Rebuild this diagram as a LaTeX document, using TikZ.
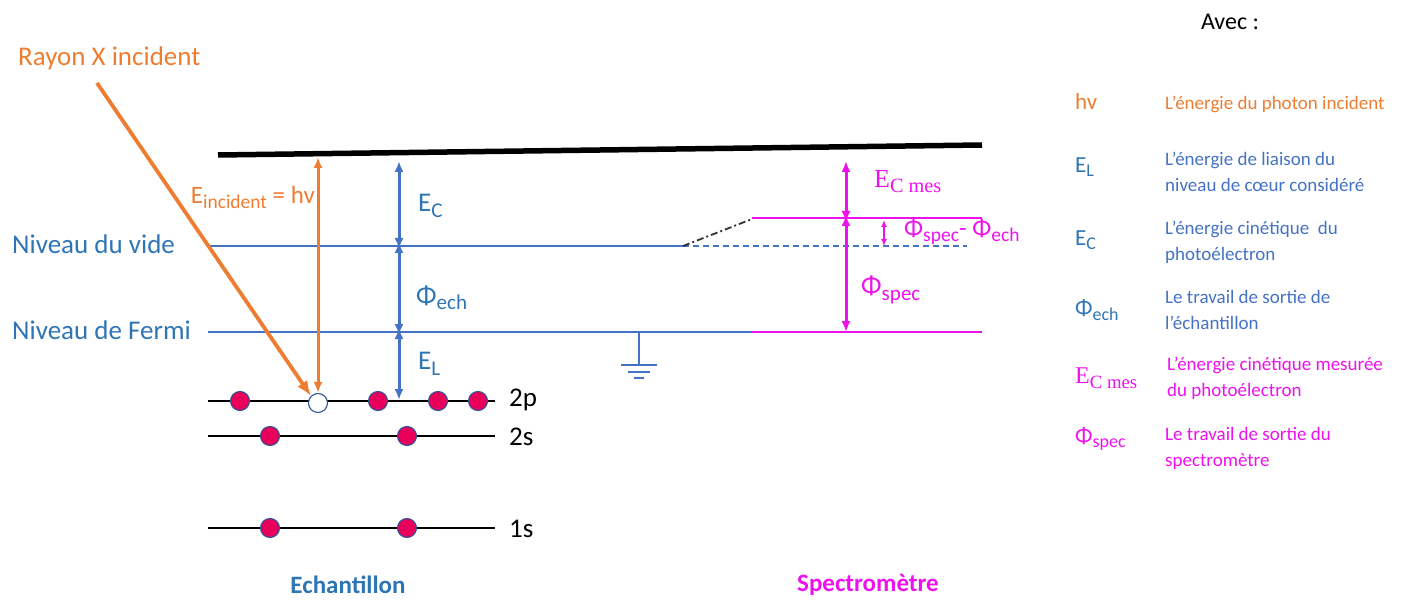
\documentclass[tikz,border=0pt]{standalone}
\usepackage{fontspec}
\setmainfont{Carlito}
\newfontfamily\cambriafont{Liberation Serif}
\usetikzlibrary{arrows.meta,positioning}
\definecolor{rayorange}{HTML}{ED7D31}
\definecolor{txtblue}{HTML}{2E75B6}
\definecolor{lineblue}{HTML}{4472C4}
\definecolor{specpink}{HTML}{EE11EE}
\definecolor{elecpink}{HTML}{E8005A}
\definecolor{elecrim}{HTML}{2F5597}
\newcommand{\idx}[1]{\raisebox{-0.42ex}{\scalebox{0.78}{#1}}}

\begin{document}
\begin{tikzpicture}[
x=1pt, y=-1pt,
lbl/.style={inner sep=0pt, font=\fontsize{27}{31}\selectfont},
legsym/.style={inner sep=0pt, anchor=west, font=\fontsize{23}{27}\selectfont},
legtxt/.style={inner sep=0pt, anchor=west, align=left, font=\fontsize{19}{26}\selectfont},
level/.style={draw=black, line width=1.6pt},
electron/.style={circle, draw=elecrim, fill=elecpink, line width=1.1pt, minimum size=19pt, inner sep=0pt},
hole/.style={circle, draw=elecrim, fill=white, line width=1.1pt, minimum size=19pt, inner sep=0pt},
dimblue/.style={{Latex[length=11pt,width=9pt]}-{Latex[length=11pt,width=9pt]}, lineblue, line width=3pt},
dimpink/.style={{Latex[length=11pt,width=9pt]}-{Latex[length=11pt,width=9pt]}, specpink, line width=3pt},
photon/.style={-{Latex[length=15pt,width=12pt]}, rayorange, line width=3.8pt}
]
\useasboundingbox (0,0) rectangle (1412,601);

% titres
\node[lbl, rayorange, anchor=west] (rayon) at (18,58) {Rayon X incident};
\node[lbl, txtblue, anchor=west] (vide) at (12,244) {Niveau du vide};
\node[lbl, txtblue, anchor=west] (fermi) at (12,330) {Niveau de Fermi};
\node[inner sep=0pt, font=\fontsize{25}{29}\selectfont\bfseries, txtblue] (ech) at (348,585) {Echantillon};
\node[inner sep=0pt, font=\fontsize{25}{29}\selectfont\bfseries, specpink] (spec) at (868,585) {Spectromètre};

% niveaux
\draw[black, line width=5.5pt] (218,155) -- (982,145);
\draw[lineblue, line width=1.4pt] (210,246) -- (683,246);
\draw[lineblue, line width=1.4pt, dash pattern=on 6pt off 4pt] (683,246) -- (967,246);
\draw[black!80, line width=1.8pt, dash pattern=on 7pt off 3pt on 2pt off 3pt] (683,246) -- (752,219);
\draw[specpink, line width=1.8pt] (752,218) -- (982,218);
\draw[lineblue, line width=1.4pt] (208,332) -- (752,332);
\draw[specpink, line width=1.8pt] (752,332) -- (982,332);

% masse
\coordinate (gnd) at (639,332);
\draw[lineblue, line width=1.4pt] (gnd) -- ++(0,33)
  (621,365) -- (657,365) (628,372) -- (650,372) (634,378) -- (644,378);

% couches
\draw[level] (208,401) -- (495,401);
\draw[level] (208,436) -- (495,436);
\draw[level] (208,528) -- (495,528);
\node[lbl, anchor=west] (l2p) at (509,400) {2p};
\node[lbl, anchor=west] (l2s) at (509,437) {2s};
\node[lbl, anchor=west] (l1s) at (509,529) {1s};
\foreach \x/\n in {240/a,378/b,438/c,478/d}
  \node[electron] (p\n) at (\x,401) {};
\node[hole] (trou) at (318,403) {};
\foreach \x/\n in {270/a,407/b}{
  \node[electron] (s\n) at (\x,436) {};
  \node[electron] (k\n) at (\x,528) {};
}

% rayon X
\coordinate (xin) at (97,83);
\draw[photon] (xin) -- (trou.north west);
\coordinate (eht) at (318,157);
\draw[{Latex[length=11pt,width=9pt]}-{Latex[length=11pt,width=9pt]}, rayorange, line width=3pt] (eht) -- (trou.north);
\node[inner sep=0pt, anchor=east, rayorange, font=\fontsize{25}{29}\selectfont] (einc) at (315,197) {E\idx{incident} = hv};

% echantillon
\coordinate (vt) at (399,161);
\coordinate (vm) at (399,246);
\coordinate (vf) at (399,332);
\coordinate (vc) at (399,400);
\draw[dimblue] (vt) -- ([yshift=-3pt]vm);
\draw[dimblue] ([yshift=4pt]vm) -- ([yshift=-3pt]vf);
\draw[dimblue] ([yshift=4pt]vf) -- (vc);
\node[lbl, txtblue, anchor=west] (ec) at (418,206) {E\idx{C}};
\node[lbl, txtblue, anchor=west] (phiech) at (416,298) {Φ\idx{ech}};
\node[lbl, txtblue, anchor=west] (el) at (418,364) {E\idx{L}};

% spectrometre
\coordinate (st) at (846,161);
\coordinate (sm) at (846,218);
\coordinate (sf) at (846,332);
\draw[dimpink] (st) -- ([yshift=-4pt]sm);
\draw[dimpink] ([yshift=3pt]sm) -- (sf);
\coordinate (dt) at (884,220);
\coordinate (db) at (884,246);
\draw[{Latex[length=7pt,width=6pt]}-{Latex[length=7pt,width=6pt]}, specpink, line width=2.2pt] (dt) -- (db);
\node[inner sep=0pt, anchor=west, specpink, font=\fontsize{26}{30}\selectfont\cambriafont] (ecmes) at (874,182) {E\idx{C mes}};
\node[lbl, specpink, anchor=west] (phispec) at (861,290) {Φ\idx{spec}};
\node[inner sep=0pt, specpink, anchor=west, font=\fontsize{25}{29}\selectfont] (diff) at (904,232) {Φ\idx{spec}- Φ\idx{ech}};

% legende
\node[inner sep=0pt, font=\fontsize{24}{28}\selectfont] (avec) at (1230,22) {Avec :};
\node[legsym, rayorange] (s1) at (1075,102) {hv};
\node[legsym, txtblue] (s2) at (1075,167) {E\idx{L}};
\node[legsym, txtblue] (s3) at (1075,240) {E\idx{C}};
\node[legsym, txtblue] (s4) at (1075,310) {Φ\idx{ech}};
\node[legsym, specpink, font=\fontsize{24}{28}\selectfont\cambriafont] (s5) at (1075,378) {E\idx{C mes}};
\node[legsym, specpink] (s6) at (1075,439) {Φ\idx{spec}};
\node[legtxt, rayorange] (t1) at (1165,104) {L’énergie du photon incident};
\node[legtxt, lineblue] (t2) at (1165,172) {L’énergie de liaison du\\niveau de cœur considéré};
\node[legtxt, lineblue] (t3) at (1165,242) {L’énergie cinétique~ du\\photoélectron};
\node[legtxt, lineblue] (t4) at (1165,310) {Le travail de sortie de\\l’échantillon};
\node[legtxt, specpink] (t5) at (1167,378) {L’énergie cinétique mesurée\\du photoélectron};
\node[legtxt, specpink] (t6) at (1165,448) {Le travail de sortie du\\spectromètre};
\end{tikzpicture}
\end{document}
